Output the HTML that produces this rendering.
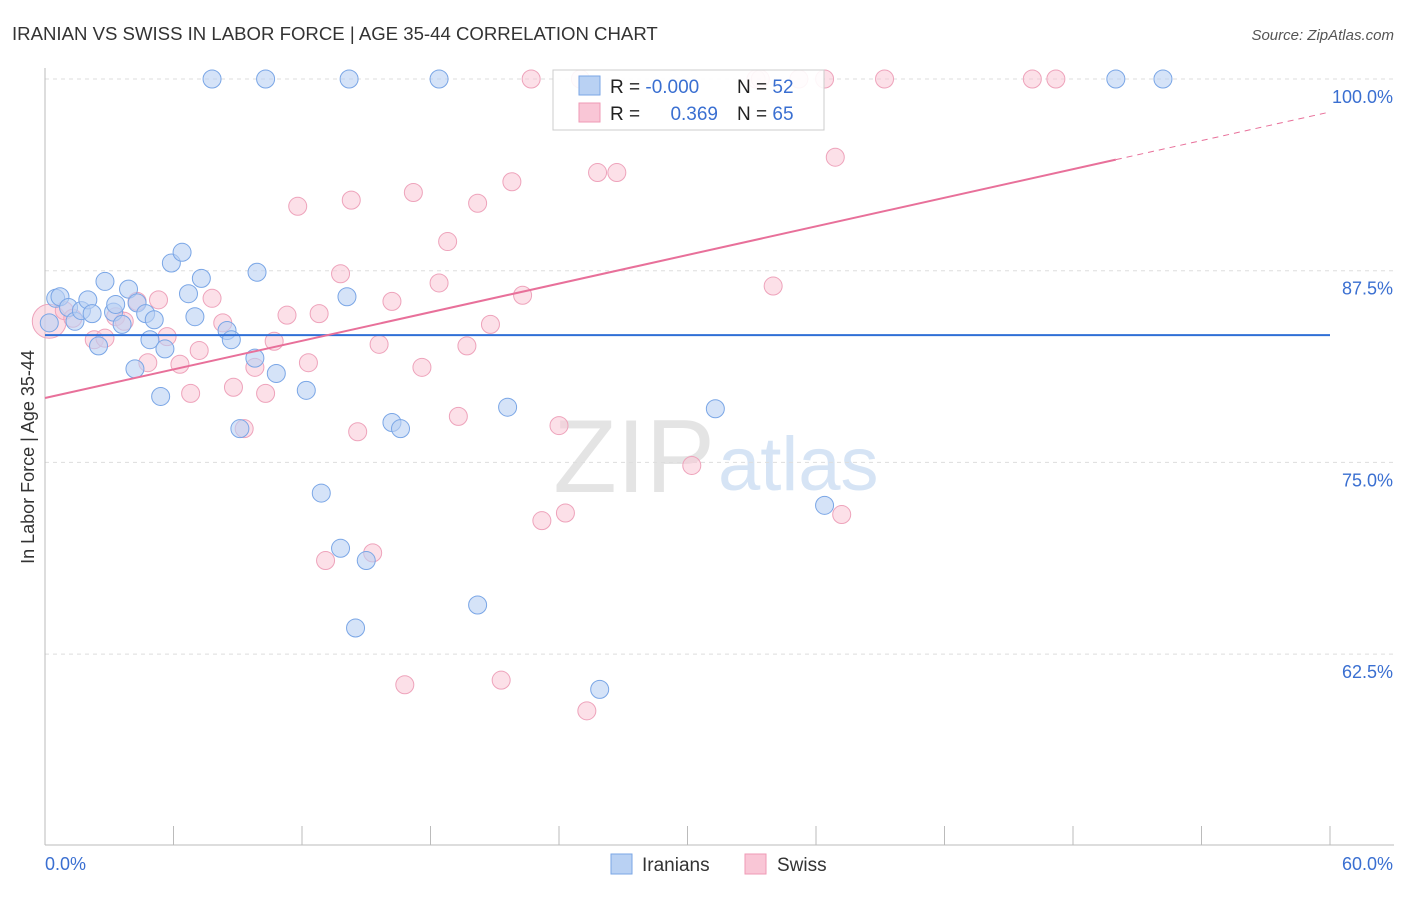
<!DOCTYPE html>
<html><head><meta charset="utf-8">
<style>
body{margin:0;background:#fff;font-family:"Liberation Sans",sans-serif;}
svg text{font-family:"Liberation Sans",sans-serif;}
</style></head>
<body>
<svg id="chart" width="1406" height="892" xmlns="http://www.w3.org/2000/svg">
<text x="12" y="40" font-size="18.6" fill="#333">IRANIAN VS SWISS IN LABOR FORCE | AGE 35-44 CORRELATION CHART</text>
<text x="1394" y="40" font-size="15" fill="#555" text-anchor="end" font-style="italic">Source: ZipAtlas.com</text>
<text x="715" y="492" font-size="104" fill="#e4e4e4" text-anchor="end" font-family="Liberation Serif">ZIP</text>
<text x="718" y="490" font-size="76" fill="#d6e4f5">atlas</text>
<g id="grid"></g>
<g id="axes"></g>
<g id="pts"></g>
<g id="trends"></g>
<text transform="translate(34,457) rotate(-90)" font-size="18" fill="#333" text-anchor="middle">In Labor Force | Age 35-44</text>
<g>
<rect x="553" y="70" width="271" height="60" fill="#fff" stroke="#ccc" fill-opacity="0.9"/>
<rect x="579" y="76" width="21" height="19" fill="#b9d1f3" stroke="#7aa6e6"/>
<rect x="579" y="103" width="21" height="19" fill="#f9c6d6" stroke="#ef9ab5"/>
<text x="610" y="93" font-size="19" fill="#222">R = <tspan fill="#3a6fd1">-0.000</tspan></text>
<text x="737" y="93" font-size="19" fill="#222">N = <tspan fill="#3a6fd1">52</tspan></text>
<text x="610" y="120" font-size="19" fill="#222">R = </text>
<text x="718" y="120" font-size="19" fill="#3a6fd1" text-anchor="end">0.369</text>
<text x="737" y="120" font-size="19" fill="#222">N = <tspan fill="#3a6fd1">65</tspan></text>
</g>
<g>
<rect x="611" y="854" width="21" height="20" fill="#b9d1f3" stroke="#7aa6e6"/>
<text x="642" y="871" font-size="19" fill="#333">Iranians</text>
<rect x="745" y="854" width="21" height="20" fill="#f9c6d6" stroke="#ef9ab5"/>
<text x="777" y="871" font-size="19" fill="#333">Swiss</text>
</g>
</svg>
<script>
const xTicks=[0,6,12,18,24,30,36,42,48,54,60];
const yTicks=[62.5,75.0,87.5,100.0];
const blueX=[7.8,10.3,14.2,18.4,50.0,52.2,0.5,0.7,1.1,1.4,1.7,2.0,2.2,2.5,2.8,3.2,3.3,3.6,3.9,4.2,4.3,4.7,4.9,5.1,5.4,5.6,5.9,6.4,6.7,7.0,7.3,8.5,8.7,9.1,9.8,9.9,10.8,12.2,12.9,13.8,14.1,14.5,15.0,16.2,16.6,20.2,21.6,25.9,31.3,36.4,0.2];
const blueY=[100,100,100,100,100,100,85.7,85.8,85.1,84.2,84.9,85.6,84.7,82.6,86.8,84.8,85.3,84.0,86.3,81.1,85.4,84.7,83.0,84.3,79.3,82.4,88.0,88.7,86.0,84.5,87.0,83.6,83.0,77.2,81.8,87.4,80.8,79.7,73.0,69.4,85.8,64.2,68.6,77.6,77.2,65.7,78.6,60.2,78.5,72.2,84.1];
const pinkX=[22.7,25.0,33.2,33.4,35.2,36.4,39.2,46.1,47.2,0.2,0.9,1.3,2.3,2.8,3.3,3.7,4.3,4.8,5.3,5.7,6.3,6.8,7.2,7.8,8.3,8.8,9.3,9.8,10.3,10.7,11.3,11.8,12.3,12.8,13.1,13.8,14.3,14.6,15.3,15.6,16.2,16.8,17.2,17.6,18.4,18.8,19.3,19.7,20.2,20.8,21.3,21.8,22.3,23.2,24.0,24.3,25.3,25.8,26.7,30.2,34.0,36.9,37.2];
const pinkY=[100,100,100,100,100,100,100,100,100,84.2,84.9,84.4,83.0,83.1,84.5,84.2,85.5,81.5,85.6,83.2,81.4,79.5,82.3,85.7,84.1,79.9,77.2,81.2,79.5,82.9,84.6,91.7,81.5,84.7,68.6,87.3,92.1,77.0,69.1,82.7,85.5,60.5,92.6,81.2,86.7,89.4,78.0,82.6,91.9,84.0,60.8,93.3,85.9,71.2,77.4,71.7,58.8,93.9,93.9,74.8,86.5,94.9,71.6];
const blueTrend=[83.3,83.3];
const pinkTrend=[79.2,97.85];
const pinkSolidEnd=50;

const NS="http://www.w3.org/2000/svg";
const X0=45,X1=1330,Y100=79,PXPER=15.336;
function sx(v){return X0+(v/60)*(X1-X0);}
function sy(v){return Y100+(100-v)*PXPER;}
function mk(tag,attrs,parent){const e=document.createElementNS(NS,tag);for(const k in attrs)e.setAttribute(k,attrs[k]);parent.appendChild(e);return e;}
const grid=document.getElementById('grid'),axes=document.getElementById('axes'),pts=document.getElementById('pts'),tr=document.getElementById('trends');
yTicks.forEach(t=>{
  const l=mk('line',{x1:X0,x2:1394,y1:sy(t),y2:sy(t),stroke:'#ddd','stroke-dasharray':'4,4'},grid);
  
  
  const tx=mk('text',{x:1393,y:sy(t)+24,'font-size':18,fill:'#3a6fd1','text-anchor':'end'},axes);
  tx.textContent=t.toFixed(1)+'%';
  
  
});
const ax=mk('line',{x1:X0,x2:X0,y1:68,y2:845,stroke:'#bbb'},axes);


const bx=mk('line',{x1:X0,x2:1394,y1:845,y2:845,stroke:'#bbb'},axes);


xTicks.forEach(t=>{
  const l=mk('line',{x1:sx(t),x2:sx(t),y1:826,y2:845,stroke:'#bbb'},axes);
  
  
});
[[0,'start'],[60,'end']].forEach(([t,a])=>{
  const tx=mk('text',{x:t===0?45:1393,y:870,'font-size':18,fill:'#3a6fd1','text-anchor':a},axes);
  tx.textContent=t.toFixed(1)+'%';
  
  
});
pinkX.forEach((x,i)=>{
  const c=mk('circle',{cx:sx(x),cy:sy(pinkY[i]),r:(i===9?17:9),fill:'#f9c6d6','fill-opacity':0.55,stroke:'#eea3bb','stroke-width':1},pts);
  
  
});
blueX.forEach((x,i)=>{
  const c=mk('circle',{cx:sx(x),cy:sy(blueY[i]),r:9,fill:'#b9d1f3','fill-opacity':0.6,stroke:'#7aa6e6','stroke-width':1},pts);
  
  
});
const bl=mk('line',{x1:sx(0),x2:sx(60),y1:sy(blueTrend[0]),y2:sy(blueTrend[1]),stroke:'#2f6fd6','stroke-width':2},tr);


const pAt=x=>pinkTrend[0]+(pinkTrend[1]-pinkTrend[0])*x/60;
const pl=mk('line',{x1:sx(0),x2:sx(pinkSolidEnd),y1:sy(pAt(0)),y2:sy(pAt(pinkSolidEnd)),stroke:'#e8709a','stroke-width':2},tr);


const pd=mk('line',{x1:sx(pinkSolidEnd),x2:sx(60),y1:sy(pAt(pinkSolidEnd)),y2:sy(pAt(60)),stroke:'#e8709a','stroke-width':1,'stroke-dasharray':'6,5'},tr);


</script>
</body></html>
